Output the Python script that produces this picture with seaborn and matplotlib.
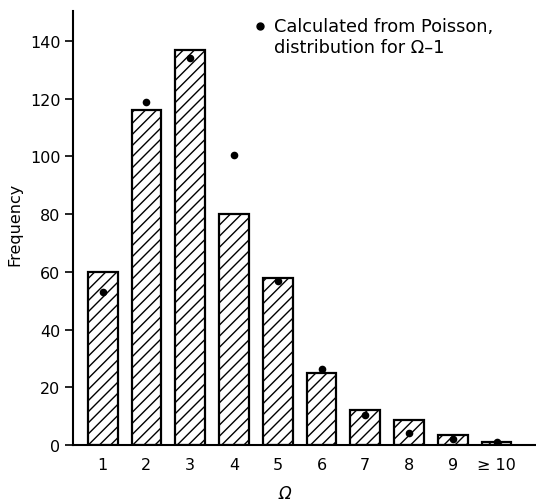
import matplotlib
matplotlib.use("Agg")
import matplotlib.pyplot as plt
import seaborn as sns
import pandas as pd

categories = ["1", "2", "3", "4", "5", "6", "7", "8", "9", "≥ 10"]
observed = [60, 116, 137, 80, 58, 25, 12, 8.5, 3.5, 1]
poisson = [53, 119, 134, 100.5, 57, 26.5, 10.5, 4, 2, 1]
yticks = [0, 20, 40, 60, 80, 100, 120, 140]

sns.set_theme(style="white")
plt.rcParams["font.family"] = ["DejaVu Sans"]
plt.rcParams["hatch.linewidth"] = 1.0

df = pd.DataFrame({"omega": categories, "obs": observed, "poi": poisson})

fig = plt.figure(figsize=(5.36, 5.02), dpi=100)
ax = fig.add_axes([0.136, 0.1116, 0.864, 0.865])

sns.barplot(data=df, x="omega", y="obs", order=categories, color="white",
            width=0.68, edgecolor="black", linewidth=1.6, hatch="///",
            ax=ax, zorder=2)
for p in ax.patches:
    p.set_hatch("///")
    p.set_facecolor("white")
    p.set_edgecolor("black")

sns.stripplot(data=df, x="omega", y="poi", order=categories, jitter=False,
              color="black", size=5.5, ax=ax, zorder=4)

ax.set_xlim(-0.68, 9.9)
ax.set_ylim(0, 150.5)
ax.set_yticks(yticks)
ax.set_yticklabels([str(v) for v in yticks], fontsize=11.5)
ax.tick_params(axis="y", direction="out", length=6, width=1.2, color="black",
               left=True, pad=3)
ax.tick_params(axis="x", length=0, pad=9, labelsize=11.5)
for lab in ax.get_xticklabels() + ax.get_yticklabels():
    lab.set_color("black")

for s in ["top", "right"]:
    ax.spines[s].set_visible(False)
for s in ["left", "bottom"]:
    ax.spines[s].set_color("black")
    ax.spines[s].set_linewidth(1.5)

ax.set_ylabel("Frequency", fontsize=11.5, color="black")
ax.yaxis.set_label_coords((22 - 73) / 463, (446 - 224) / 434.3)
ax.set_xlabel("Ω", fontsize=12, color="black", style="italic")
ax.xaxis.set_label_coords((285 - 73) / 463, (446 - 485) / 434.3)

ax.plot([(260 - 73) / 463], [(446 - 27) / 434.3], marker="o", color="black",
        markersize=5, transform=ax.transAxes, clip_on=False)
ax.text((274 - 73) / 463, (446 - 18) / 434.3,
        "Calculated from Poisson,\ndistribution for Ω\u20131",
        transform=ax.transAxes, fontsize=12.8, va="top", ha="left",
        color="black", linespacing=1.2)

fig.savefig("out.png", dpi=100)
